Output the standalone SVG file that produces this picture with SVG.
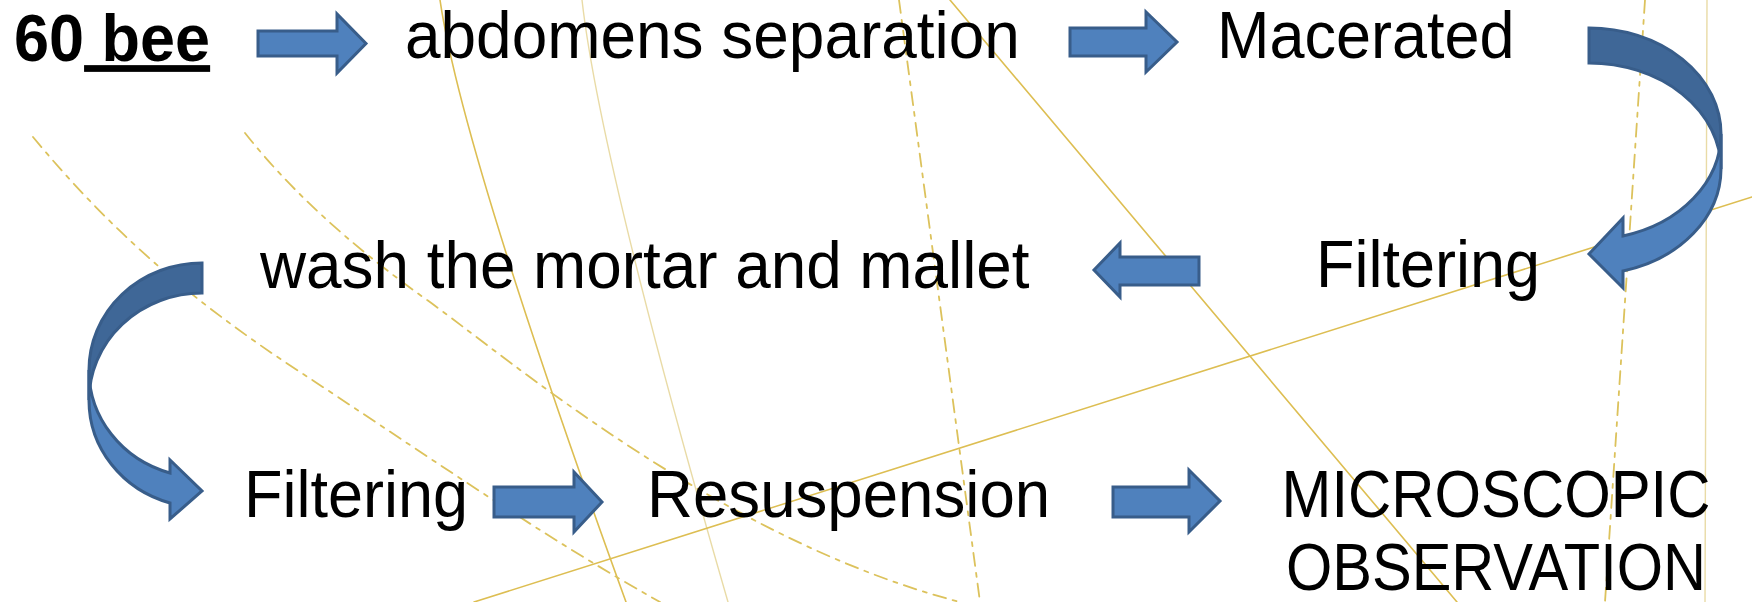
<svg xmlns="http://www.w3.org/2000/svg" width="1752" height="602" viewBox="0 0 1752 602">
<style>
.bg{fill:none;stroke-linecap:round}
.sl{stroke:#DDBE52;stroke-width:1.6}
.fl{stroke:#E9DBA6;stroke-width:1.4}
.dl{stroke:#DCC25C;stroke-width:1.8;stroke-dasharray:13 7 4 7}
.t{font-family:"Liberation Sans",Arial,sans-serif;font-size:63px;fill:#000}
.ar{fill:#4F81BD;stroke:#385D8A;stroke-width:3;stroke-linejoin:miter}
.ard{fill:#3F6797;stroke:#385D8A;stroke-width:3}
</style>
<rect width="1752" height="602" fill="#FFFFFF"/>
<g id="background">
<path class="bg sl" d="M440,0 Q462,150 626,602"/>
<path class="bg fl" d="M582,0 Q600,160 728,602"/>
<path class="bg sl" d="M950,0 L1457,602"/>
<path class="bg sl" d="M1752,197 L474,602"/>
<path class="bg fl" d="M1707,0 L1705,602"/>
<path class="bg dl" d="M1645,0 L1605,602"/>
<path class="bg dl" d="M899,0 L980,602"/>
<path class="bg dl" d="M33,137 C110,230 190,300 300,372 S540,535 660,602"/>
<path class="bg dl" d="M245,133 C290,190 350,245 427,300 S720,540 960,602"/>
</g>
<g id="connectors">
<polygon class="ar" points="258,31 337,31 337,14 366,43.5 337,73 337,56 258,56"/>
<polygon class="ar" points="1070,28 1146,28 1146,12 1177,42 1146,72 1146,56 1070,56"/>
<polygon class="ar" points="1199,257 1120,257 1120,243 1094,270 1120,297 1120,285 1199,285"/>
<polygon class="ar" points="494,487 574,487 574,472 602,502 574,532 574,517 494,517"/>
<polygon class="ar" points="1113,487 1189,487 1189,470 1220,501 1189,532 1189,517 1113,517"/>
<g id="curved-right">
<path class="ard" d="M1589,28 A132,106 0 0 1 1721,134 L1721,169 A132,106 0 0 0 1589,63 Z"/>
<path class="ar" d="M1721,134 A132,106 0 0 1 1623,236 L1623,218 L1589,254 L1623,288 L1623,271 A132,106 0 0 0 1721,169 Z"/>
</g>
<g id="curved-left">
<path class="ard" d="M202,263 A113,107 0 0 0 89,370 L89,400 A113,107 0 0 1 202,293 Z"/>
<path class="ar" d="M89,370 A113,107 0 0 0 170,473 L170,460 L202,491 L170,519 L170,503 A113,107 0 0 1 89,400 Z"/>
</g>
</g>
<g id="n-bee"><text class="t" transform="translate(14,61) scale(1,1.07)" font-weight="bold">60<tspan text-decoration="underline"> bee</tspan></text></g>
<g id="n-abdomens"><text class="t" transform="translate(405,58) scale(1.015,1.07)">abdomens separation</text></g>
<g id="n-macerated"><text class="t" transform="translate(1217,58) scale(1,1.07)">Macerated</text></g>
<g id="n-filtering1"><text class="t" transform="translate(1316,287) scale(1,1.07)">Filtering</text></g>
<g id="n-wash"><text class="t" transform="translate(260,288) scale(1.013,1.07)">wash the mortar and mallet</text></g>
<g id="n-filtering2"><text class="t" transform="translate(244,517) scale(1,1.07)">Filtering</text></g>
<g id="n-resuspension"><text class="t" transform="translate(647,517) scale(1.01,1.07)">Resuspension</text></g>
<g id="n-micro"><text class="t" transform="translate(1496,517) scale(0.95,1.07)" text-anchor="middle">MICROSCOPIC</text><text class="t" transform="translate(1496,590) scale(0.945,1.07)" text-anchor="middle">OBSERVATION</text></g>
</svg>
